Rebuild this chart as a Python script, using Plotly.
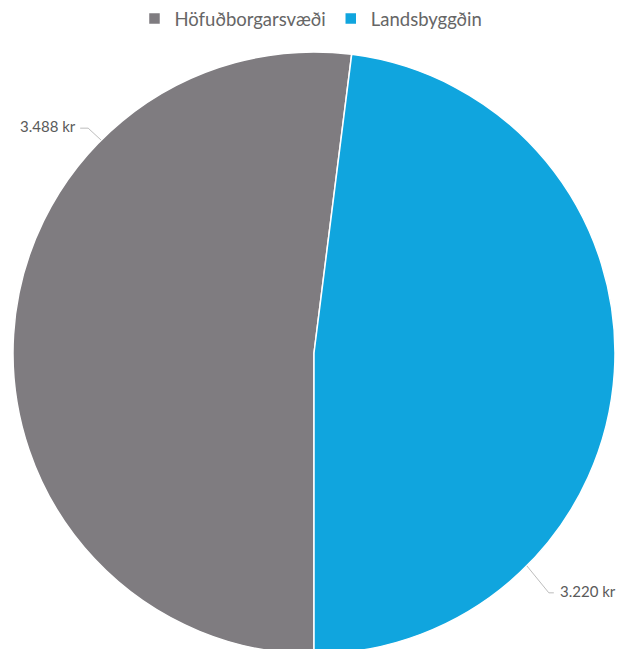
import math
import plotly.graph_objects as go

# ---- data ----
categories = ["Höfuðborgarsvæði", "Landsbyggðin"]
values = [3488, 3220]
value_labels = ["3.488 kr", "3.220 kr"]
colors = ["#7f7c80", "#10a5de"]

# ---- layout constants ----
W, H = 630, 654
M_L, M_R, M_T, M_B = 13, 15, 52, 0
ROTATION = 180  # first slice starts at 6 o'clock, clockwise

fig = go.Figure(go.Pie(
    labels=categories,
    values=values,
    sort=False,
    direction="clockwise",
    rotation=ROTATION,
    marker=dict(colors=colors, line=dict(color="white", width=1.5)),
    textinfo="none",
    hoverinfo="label+value",
))

# plot area geometry (pixels)
pw = W - M_L - M_R
ph = H - M_T - M_B
cx, cy = M_L + pw / 2, M_T + ph / 2
r = min(pw, ph) / 2


def to_paper(px, py):
    return (px - M_L) / pw, 1 - (py - M_T) / ph


# label anchors: angle (deg clockwise from top), elbow offsets, text side
label_specs = [
    dict(angle=315, elbow=(-13, -12), tail=(-8, 0), side="right"),
    dict(angle=135, elbow=(22, 27), tail=(5, 0), side="left"),
]

shapes = []
annotations = []
for spec, txt in zip(label_specs, value_labels):
    a = math.radians(spec["angle"])
    ex, ey = cx + r * math.sin(a), cy - r * math.cos(a)
    bx, by = ex + spec["elbow"][0], ey + spec["elbow"][1]
    tx, ty = bx + spec["tail"][0], by + spec["tail"][1]
    p0, p1, p2 = to_paper(ex, ey), to_paper(bx, by), to_paper(tx, ty)
    shapes.append(dict(
        type="path", xref="paper", yref="paper",
        path=f"M {p0[0]},{p0[1]} L {p1[0]},{p1[1]} L {p2[0]},{p2[1]}",
        line=dict(color="#bdbdbd", width=1),
    ))
    right = spec["side"] == "right"
    annotations.append(dict(x=p2[0], y=p2[1], xref="paper", yref="paper",
                            text=txt, showarrow=False,
                            xanchor="right" if right else "left",
                            yanchor="middle",
                            xshift=-2 if right else 4, yshift=2,
                            font=dict(size=15, color="#5a5a5a", family="Lato")))

fig.update_layout(
    width=W, height=H,
    margin=dict(l=M_L, r=M_R, t=M_T, b=M_B),
    paper_bgcolor="white",
    font=dict(family="Lato"),
    showlegend=True,
    legend=dict(orientation="h", x=0.495, xanchor="center", y=1.0, yanchor="top",
                yref="container", font=dict(size=18.5, color="#666666")),
    shapes=shapes,
    annotations=annotations,
)

post = ("document.body.style.margin='0';"
        "document.body.style.overflow='hidden';"
        "document.documentElement.style.overflow='hidden';")
fig.write_html("out.html", post_script=post, config={"displayModeBar": False})
